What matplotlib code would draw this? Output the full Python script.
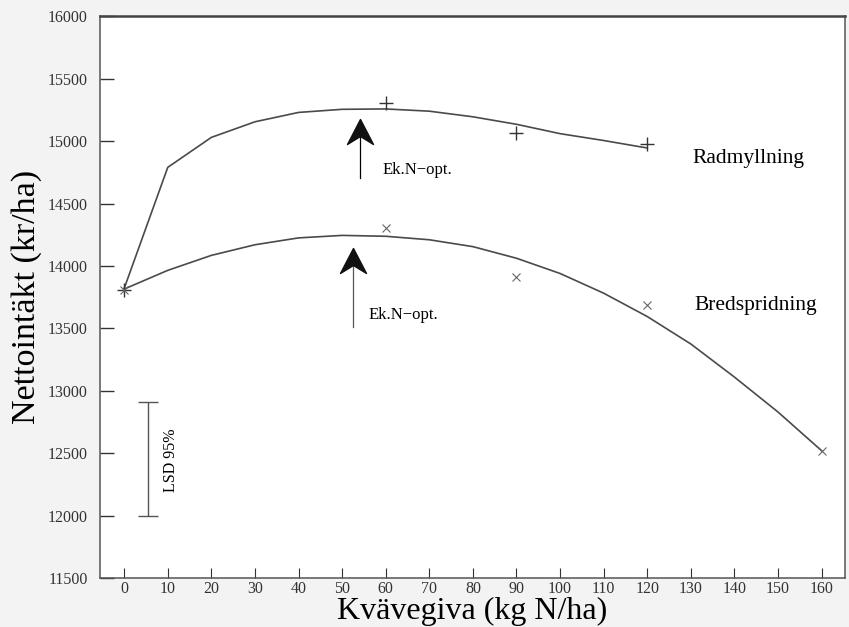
import matplotlib
matplotlib.use("Agg")
import matplotlib.pyplot as plt
from matplotlib.path import Path
import numpy as np

# kvävegiva (kg N/ha) och avlästa kurvvärden (kr/ha)
kvave_rad = [0, 10, 20, 30, 40, 50, 60, 70, 80, 90, 100, 110, 120]
radmyll_kurva = [13820, 14790, 15030, 15155, 15230, 15255, 15258, 15240,
                 15195, 15135, 15060, 15005, 14945]
kvave_bred = [0, 10, 20, 30, 40, 50, 60, 70, 80, 90, 100, 110, 120,
              130, 140, 150, 160]
bred_kurva = [13815, 13965, 14085, 14170, 14225, 14245, 14238, 14210,
              14155, 14062, 13940, 13782, 13595, 13375, 13110, 12830, 12520]

# observerade värden
rad_obs_x = [0, 60, 90, 120]
rad_obs_y = [13810, 15305, 15066, 14978]
bred_obs_x = [0, 60, 90, 120, 160]
bred_obs_y = [13810, 14305, 13915, 13690, 12518]

# ekonomiskt N-optimum (pilar)
opt_x = [54.2, 52.6]
opt_topp = [15180, 14147]
opt_bas = [14706, 13508]

lsd_x = 5.5
lsd_lag, lsd_hog = 12000, 12910

xticks = list(range(0, 161, 10))
yticks = list(range(11500, 16001, 500))

plt.rcParams['font.family'] = ['Liberation Serif', 'DejaVu Serif']

fig = plt.figure(figsize=(8.49, 6.27), dpi=100, facecolor='#f3f3f3')
ax = fig.add_axes([0.118, 0.078, 0.877, 0.896])
ax.set_facecolor('white')

linjefarg = '#4a4a4a'
ax.plot(kvave_rad, radmyll_kurva, color=linjefarg, lw=1.2)
ax.plot(kvave_bred, bred_kurva, color=linjefarg, lw=1.2)
ax.plot(rad_obs_x, rad_obs_y, ls='none', marker='+', ms=10, mew=1.0,
        color='#333333')
ax.plot(bred_obs_x, bred_obs_y, ls='none', marker='x', ms=6, mew=0.8,
        color='#666666')

# pilspets som egen markör, spetsen i origo
spets = Path([(0, 0), (-0.52, -1), (0, -0.68), (0.52, -1), (0, 0)],
             [Path.MOVETO, Path.LINETO, Path.LINETO, Path.LINETO,
              Path.CLOSEPOLY])
for i, (x, t, b) in enumerate(zip(opt_x, opt_topp, opt_bas)):
    ax.plot([x, x], [b, t - 60], color='black' if i == 0 else '#555555',
            lw=0.9)
    ax.plot([x], [t], marker=spets, ms=36, color='#111111', ls='none')

ax.text(59.3, 14770, 'Ek.N\u2212opt.', fontsize=12, va='center', ha='left')
ax.text(56.0, 13604, 'Ek.N\u2212opt.', fontsize=12, va='center', ha='left')

ax.text(130.3, 14860, 'Radmyllning', fontsize=15.5, va='center', ha='left')
ax.text(130.8, 13686, 'Bredspridning', fontsize=15.5, va='center', ha='left')

# LSD-stapel
ax.errorbar([lsd_x], [(lsd_lag + lsd_hog) / 2],
            yerr=[[(lsd_hog - lsd_lag) / 2]], color='#555555', lw=1.0,
            capsize=7, capthick=1.0)
ax.text(10.8, 12440, 'LSD 95%', rotation=90, fontsize=11.5, va='center',
        ha='center')

ax.set_xlim(-5.5, 165.3)
ax.set_ylim(11500, 16000)
ax.set_xticks(xticks)
ax.set_yticks(yticks)
ax.tick_params(axis='both', direction='in', labelsize=11.5, colors='#333333')
ax.tick_params(axis='y', length=10, width=1.0, pad=9)
ax.tick_params(axis='x', length=7, width=0.8, pad=2)

for side in ['left', 'bottom', 'right']:
    ax.spines[side].set_color('#555555')
    ax.spines[side].set_linewidth(1.1)
ax.spines['top'].set_color('#444444')
ax.spines['top'].set_linewidth(1.8)

ax.set_xlabel('Kvävegiva (kg N/ha)', fontsize=23, labelpad=0)
ax.set_ylabel('Nettointäkt (kr/ha)', fontsize=24.5, labelpad=4)

fig.savefig('out.png', dpi=100, facecolor=fig.get_facecolor())
